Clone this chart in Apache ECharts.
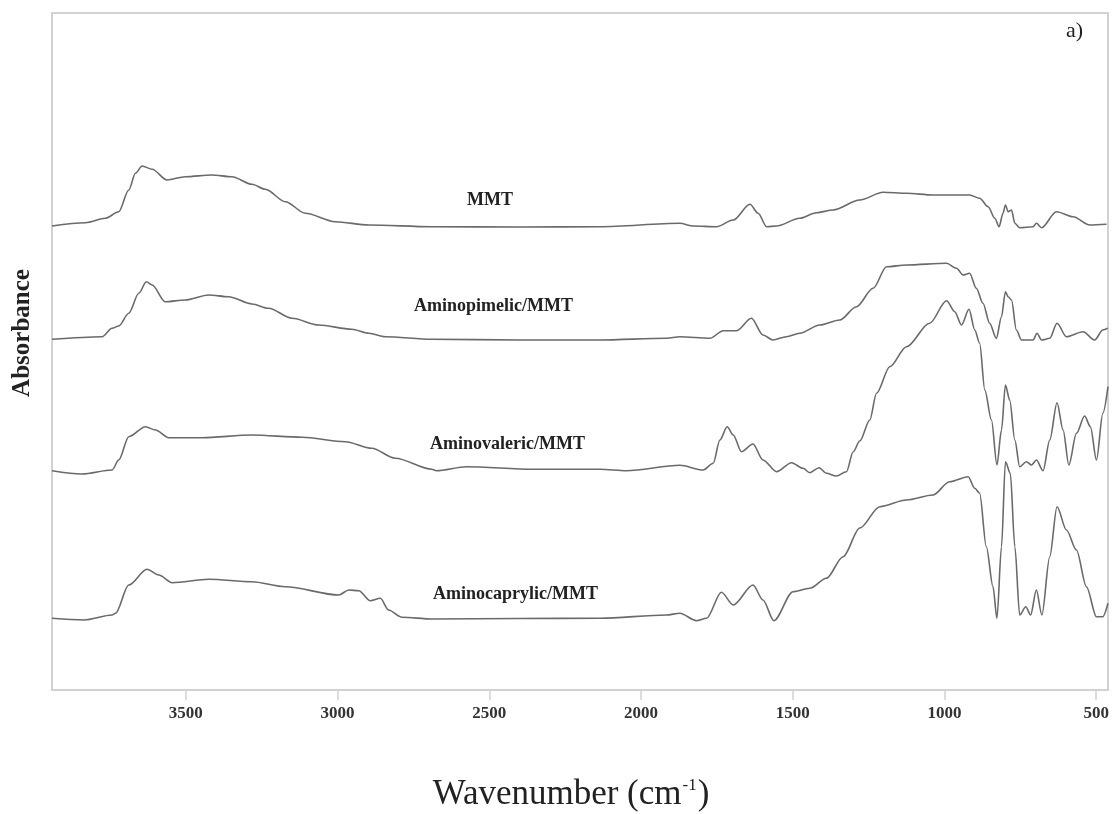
<!DOCTYPE html>
<html>
<head>
<meta charset="utf-8">
<script src="https://cdn.jsdelivr.net/npm/echarts@6/dist/echarts.min.js"></script>
<style>
html,body{margin:0;padding:0;background:#fff;}
#chart{width:1112px;height:814px;}
</style>
</head>
<body>
<div id="chart"></div>
<script>
// Wavenumber (cm-1) / absorbance (a.u., offset stacked)
const seriesNames = ['MMT', 'Aminopimelic/MMT', 'Aminovaleric/MMT', 'Aminocaprylic/MMT'];
const xTicks = [3500, 3000, 2500, 2000, 1500, 1000, 500];

const mmt = [[3941,4.640],[3831,4.673],[3765,4.717],[3721,4.783],[3688,5.000],[3666,5.167],[3644,5.240],[3611,5.207],[3562,5.100],[3502,5.133],[3414,5.150],[3348,5.133],[3282,5.057],[3238,5.007],[3172,4.883],[3106,4.767],[3008,4.683],[2897,4.650],[2689,4.633],[2399,4.630],[2135,4.633],[1872,4.667],[1828,4.640],[1751,4.633],[1696,4.700],[1641,4.857],[1614,4.767],[1586,4.633],[1553,4.640],[1477,4.717],[1422,4.773],[1367,4.800],[1279,4.900],[1202,4.977],[1125,4.967],[1038,4.950],[917,4.950],[884,4.917],[856,4.833],[834,4.717],[820,4.633],[807,4.767],[799,4.850],[790,4.783],[779,4.800],[768,4.667],[752,4.623],[708,4.633],[697,4.667],[680,4.623],[631,4.783],[576,4.733],[521,4.650],[466,4.657]];

const pimelic = [[3941,3.507],[3776,3.533],[3743,3.617],[3721,3.640],[3688,3.767],[3655,3.967],[3630,4.083],[3611,4.050],[3568,3.883],[3502,3.900],[3425,3.950],[3359,3.933],[3282,3.860],[3227,3.817],[3150,3.717],[3062,3.650],[2953,3.607],[2897,3.567],[2843,3.533],[2689,3.507],[2399,3.500],[2135,3.500],[1916,3.517],[1872,3.533],[1773,3.517],[1729,3.593],[1685,3.593],[1636,3.717],[1598,3.550],[1565,3.500],[1521,3.533],[1477,3.567],[1411,3.650],[1345,3.700],[1290,3.833],[1235,4.017],[1191,4.233],[1125,4.250],[993,4.267],[960,4.217],[939,4.150],[917,4.167],[895,4.017],[873,3.867],[851,3.667],[829,3.517],[812,3.733],[799,3.983],[790,3.933],[779,3.900],[763,3.600],[746,3.500],[708,3.500],[695,3.567],[680,3.500],[653,3.517],[629,3.667],[598,3.533],[543,3.583],[505,3.500],[478,3.600],[462,3.617]];

const valeric = [[3941,2.193],[3842,2.160],[3743,2.200],[3721,2.300],[3688,2.533],[3633,2.633],[3600,2.600],[3556,2.523],[3447,2.523],[3282,2.550],[3117,2.527],[2975,2.483],[2887,2.417],[2810,2.317],[2689,2.207],[2674,2.193],[2575,2.233],[2355,2.207],[2135,2.207],[2048,2.193],[1872,2.247],[1795,2.200],[1762,2.267],[1740,2.500],[1716,2.633],[1696,2.550],[1669,2.383],[1631,2.460],[1598,2.300],[1553,2.183],[1504,2.273],[1466,2.217],[1444,2.173],[1413,2.223],[1389,2.167],[1356,2.140],[1323,2.183],[1301,2.380],[1279,2.490],[1246,2.700],[1224,2.967],[1180,3.233],[1125,3.433],[1049,3.667],[993,3.893],[966,3.783],[944,3.650],[919,3.807],[900,3.600],[884,3.467],[867,3.000],[845,2.700],[827,2.250],[812,2.600],[799,3.050],[785,2.900],[768,2.500],[752,2.233],[730,2.283],[713,2.250],[697,2.300],[675,2.193],[653,2.500],[629,2.873],[609,2.600],[590,2.250],[565,2.567],[538,2.740],[519,2.633],[499,2.300],[478,2.767],[461,3.033]];

const caprylic = [[3941,0.717],[3836,0.700],[3743,0.750],[3732,0.767],[3688,1.050],[3628,1.207],[3589,1.150],[3545,1.073],[3425,1.107],[3282,1.083],[3172,1.033],[2996,0.950],[2963,1.000],[2930,0.993],[2892,0.893],[2859,0.917],[2832,0.800],[2788,0.727],[2689,0.710],[2399,0.715],[2135,0.717],[1916,0.750],[1872,0.767],[1817,0.693],[1784,0.717],[1735,0.977],[1696,0.850],[1631,1.050],[1598,0.900],[1562,0.693],[1499,0.983],[1444,1.017],[1389,1.117],[1334,1.333],[1279,1.620],[1213,1.833],[1125,1.900],[1038,1.950],[983,2.083],[922,2.133],[900,2.017],[884,1.967],[862,1.433],[840,1.033],[827,0.717],[812,1.433],[799,2.283],[783,2.167],[768,1.433],[752,0.750],[732,0.833],[716,0.750],[697,1.000],[679,0.750],[653,1.333],[629,1.833],[598,1.600],[565,1.400],[532,1.033],[499,0.733],[478,0.733],[461,0.867]];

const seriesData = [mmt, pimelic, valeric, caprylic];

const chart = echarts.init(document.getElementById('chart'), null, {renderer: 'canvas'});
const serif = '"Liberation Serif", "Times New Roman", serif';
const lineColor = '#6a6a6a';
const frameColor = '#d2d2d2';

const option = {
  backgroundColor: '#ffffff',
  animation: false,
  grid: {left: 52, right: 4, top: 13, bottom: 124, show: true, borderColor: frameColor, borderWidth: 2, backgroundColor: 'transparent'},
  xAxis: {
    type: 'value', inverse: true, min: 461, max: 3941,
    axisLine: {show: true, lineStyle: {color: frameColor, width: 2}},
    axisTick: {show: true, length: 10, inside: false, customValues: xTicks, lineStyle: {color: frameColor, width: 1.5}},
    axisLabel: {customValues: xTicks, margin: 15, color: '#333', fontFamily: serif, fontWeight: 'bold', fontSize: 17,
      formatter: v => String(v)},
    splitLine: {show: false}
  },
  yAxis: {
    type: 'value', min: 0, max: 6.77,
    axisLine: {show: false}, axisTick: {show: false}, axisLabel: {show: false}, splitLine: {show: false}
  },
  series: seriesData.map((d, i) => ({
    name: seriesNames[i], type: 'line', data: d, showSymbol: false, symbol: 'none',
    smooth: 0.3, smoothMonotone: 'x',
    lineStyle: {color: lineColor, width: 1.6}
  })),
  graphic: [
    {type: 'text', left: 467, top: 191, style: {text: seriesNames[0], font: 'bold 18px ' + serif, fill: '#222'}},
    {type: 'text', left: 414, top: 297, style: {text: seriesNames[1], font: 'bold 18px ' + serif, fill: '#222'}},
    {type: 'text', left: 430, top: 435, style: {text: seriesNames[2], font: 'bold 18px ' + serif, fill: '#222'}},
    {type: 'text', left: 433, top: 585, style: {text: seriesNames[3], font: 'bold 18px ' + serif, fill: '#222'}},
    {type: 'text', left: 1066, top: 20, style: {text: 'a)', font: '22px ' + serif, fill: '#222'}},
    {type: 'text', x: 23, y: 333, rotation: Math.PI / 2, style: {text: 'Absorbance', font: 'bold 25px ' + serif, fill: '#222', align: 'center', verticalAlign: 'middle'}},
    {type: 'text', x: 571, y: 795, style: {
      text: '{a|Wavenumber (cm}{s|-1}{a|)}', align: 'center', verticalAlign: 'middle',
      rich: {
        a: {fontFamily: serif, fontSize: 35, fill: '#222', color: '#222'},
        s: {fontFamily: serif, fontSize: 17, fill: '#222', color: '#222', padding: [0, 1, 18, 1]}
      }
    }}
  ]
};
chart.setOption(option);
</script>
</body>
</html>
